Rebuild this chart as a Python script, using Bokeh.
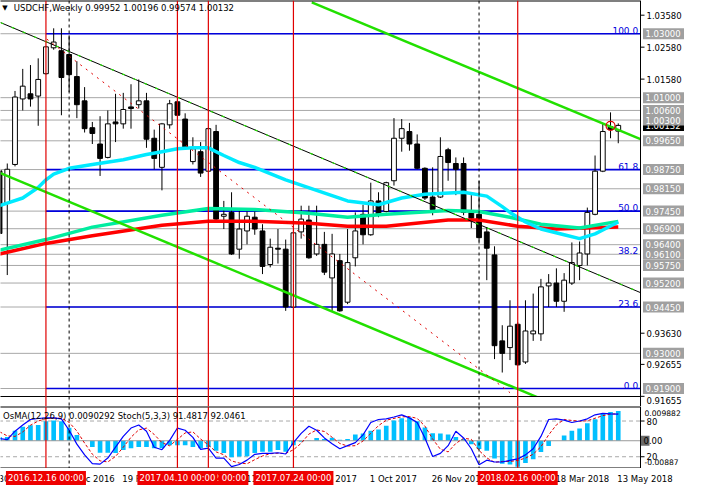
from bokeh.plotting import figure
from bokeh.layouts import column
from bokeh.models import Range1d, Label, Span
from bokeh.core.properties import value
from bokeh.embed import file_html
from bokeh.resources import INLINE

FONT = "DejaVu Sans"
FS = "8.5px"

# ---------------- data ----------------
symbol_title = "USDCHF,Weekly  0.99952 1.00196 0.99574 1.00132"
indicator_title = "OsMA(12,26,9) 0.0090292  Stoch(5,3,3) 91.4817 92.0461"

opens = [0.9871, 0.9771, 0.9891, 1.0096, 1.0112, 1.0105, 1.0175, 1.0256, 1.0247, 1.0235,
         1.0166, 1.0090, 1.0006, 0.9955, 0.9913, 1.0024, 1.0018, 1.0071, 1.0078, 1.0090,
         0.9973, 0.9882, 1.0015, 1.0087, 1.0033, 0.9900, 0.9931, 0.9870, 0.9994, 0.9729,
         0.9741, 0.9626, 0.9683, 0.9726, 0.9683, 0.9578, 0.9629, 0.9626, 0.9445, 0.9680,
         0.9717, 0.9611, 0.9641, 0.9536, 0.9590, 0.9460, 0.9599, 0.9735, 0.9671, 0.9777,
         0.9744, 0.9840, 0.9973, 0.9994, 0.9955, 0.9879, 0.9789, 0.9789, 0.9937, 0.9894,
         0.9894, 0.9741, 0.9735, 0.9680, 0.9608, 0.9339, 0.9318, 0.9391, 0.9273, 0.9361,
         0.9361, 0.9511, 0.9520, 0.9463, 0.9520, 0.9575, 0.9611, 0.9735, 0.9870, 1.0009,
         0.99952]
highs = [0.9882, 0.9894, 1.0121, 1.0190, 1.0202, 1.0223, 1.0262, 1.0317, 1.0317, 1.0295,
         1.0214, 1.0133, 1.0024, 1.0042, 1.0060, 1.0112, 1.0115, 1.0142, 1.0157, 1.0115,
         1.0000, 1.0021, 1.0093, 1.0093, 1.0051, 0.9976, 0.9961, 1.0006, 1.0015, 0.9777,
         0.9804, 0.9750, 0.9744, 0.9744, 0.9704, 0.9659, 0.9689, 0.9656, 0.9680, 0.9762,
         0.9762, 0.9762, 0.9680, 0.9674, 0.9611, 0.9689, 0.9741, 0.9765, 0.9834, 0.9804,
         0.9837, 1.0036, 1.0033, 1.0021, 0.9985, 0.9882, 0.9882, 0.9976, 0.9943, 0.9913,
         0.9913, 0.9795, 0.9840, 0.9695, 0.9635, 0.9388, 0.9466, 0.9397, 0.9466, 0.9487,
         0.9533, 0.9548, 0.9566, 0.9551, 0.9647, 0.9650, 0.9756, 0.9919, 1.0018, 1.0054,
         1.00196]
lows = [0.9650, 0.9545, 0.9885, 1.0060, 1.0072, 1.0012, 1.0172, 1.0250, 1.0045, 1.0118,
        1.0036, 0.9991, 0.9955, 0.9855, 0.9910, 0.9961, 1.0003, 1.0003, 1.0066, 0.9943,
        0.9876, 0.9810, 1.0003, 1.0042, 0.9943, 0.9891, 0.9852, 0.9867, 0.9717, 0.9689,
        0.9608, 0.9596, 0.9641, 0.9671, 0.9548, 0.9569, 0.9581, 0.9433, 0.9442, 0.9659,
        0.9596, 0.9605, 0.9545, 0.9433, 0.9430, 0.9454, 0.9572, 0.9641, 0.9668, 0.9726,
        0.9741, 0.9825, 0.9931, 0.9934, 0.9876, 0.9780, 0.9732, 0.9786, 0.9840, 0.9795,
        0.9732, 0.9692, 0.9650, 0.9529, 0.9282, 0.9240, 0.9279, 0.9261, 0.9267, 0.9339,
        0.9339, 0.9445, 0.9445, 0.9430, 0.9514, 0.9529, 0.9575, 0.9732, 0.9867, 0.9973,
        0.99574]
closes = [0.9675, 0.9876, 1.0102, 1.0136, 1.0096, 1.0157, 1.0259, 1.0274, 1.0163, 1.0172,
          1.0078, 1.0003, 0.9988, 0.9910, 1.0018, 1.0018, 1.0063, 1.0066, 1.0090, 0.9970,
          0.9910, 1.0018, 1.0081, 1.0045, 0.9946, 0.9940, 0.9864, 1.0003, 0.9720, 0.9735,
          0.9611, 0.9689, 0.9729, 0.9689, 0.9572, 0.9632, 0.9626, 0.9445, 0.9677, 0.9720,
          0.9599, 0.9641, 0.9554, 0.9611, 0.9433, 0.9584, 0.9683, 0.9671, 0.9777, 0.9732,
          0.9834, 0.9973, 1.0003, 0.9955, 0.9879, 0.9786, 0.9750, 0.9916, 0.9897, 0.9876,
          0.9741, 0.9723, 0.9662, 0.9629, 0.9324, 0.9300, 0.9385, 0.9264, 0.9370, 0.9370,
          0.9508, 0.9520, 0.9463, 0.9529, 0.9584, 0.9614, 0.9741, 0.9870, 0.9994, 1.0000,
          1.00132]

# moving averages (week index, price)
ma_fast_idx = [0, 3, 5, 6, 7, 9, 12, 16, 19, 21, 23, 25, 27, 29, 31, 33, 37, 41, 45, 49,
               52, 55, 60, 63, 65, 66, 68, 70, 73, 75, 77, 78, 80]
ma_fast_val = [0.9762, 0.9786, 0.9819, 0.9843, 0.9861, 0.9879, 0.9891, 0.9906, 0.9922, 0.9931,
               0.9940, 0.9943, 0.9943, 0.9919, 0.9897, 0.9882, 0.9843, 0.9810, 0.9777, 0.9765,
               0.9786, 0.9798, 0.9804, 0.9792, 0.9759, 0.9741, 0.9711, 0.9689, 0.9671, 0.9659,
               0.9674, 0.9686, 0.9711]
ma_mid_idx = [0, 6, 12, 21, 27, 33, 40, 45, 50, 58, 62, 66, 70, 75, 80]
ma_mid_val = [0.9623, 0.9656, 0.9695, 0.9732, 0.9753, 0.9750, 0.9738, 0.9726, 0.9735, 0.9747,
              0.9744, 0.9726, 0.9704, 0.9692, 0.9713]
ma_slow_idx = [0, 6, 12, 21, 27, 33, 40, 45, 50, 58, 62, 67, 72, 80]
ma_slow_val = [0.9611, 0.9644, 0.9668, 0.9701, 0.9713, 0.9713, 0.9707, 0.9698, 0.9698, 0.9717,
               0.9717, 0.9698, 0.9689, 0.9695]

# horizontal levels
grey_levels = [1.0300, 1.0100, 1.0060, 1.0030, 0.9965, 0.9875, 0.9815, 0.9745, 0.9690,
               0.9640, 0.9610, 0.9575, 0.9520, 0.9445, 0.9300, 0.9190]
fib_levels = [1.0300, 0.9875, 0.9745, 0.9445, 0.9190]
fib_text_levels = [1.0300, 0.9875, 0.9745, 0.9610, 0.9445, 0.9190]
fib_texts = ["100.0", "61.8", "50.0", "38.2", "23.6", "0.0"]
current_price = 1.00132

# price scale ticks
price_ticks = [1.0358, 1.0258, 1.0158, 0.9363, 0.92655, 0.91655]

# trend lines (week index, price)
channel_x = [0.125, 82.875]
channel_y = [1.0335, 0.9490]
lime_up_x = [40.375, 82.875]
lime_up_y = [1.0398, 0.9970]
lime_low_x = [0.125, 70.5]
lime_low_y = [0.9864, 0.9153]
red_dot_x = [6.125, 66.0]
red_dot_y = [1.0283, 0.9177]

# vertical markers (week index)
red_vlines = [6, 23, 27, 38, 67]
dash_vlines = [9, 62]

# time labels
date_idx = [0, 8, 16, 24, 32, 40, 48, 56, 64, 72, 80]
date_txt = ["30 Oct 2016", "25 Dec 2016", "19 Feb 2017", "16 Apr 2017", "11 Jun 2017",
            "6 Aug 2017", "1 Oct 2017", "26 Nov 2017", "21 Jan 2018", "18 Mar 2018", "13 May 2018"]
mark_back_idx = [27]
mark_back_txt = ["2017.05.12 00:00"]
mark_idx = [6, 23, 38, 67]
mark_txt = ["2016.12.16 00:00", "2017.04.10 00:00", "2017.07.24 00:00", "2018.02.16 00:00"]

# indicators
osma = [0.0011, 0.0011, 0.0030, 0.0042, 0.0047, 0.0048, 0.0059, 0.0061, 0.0059, 0.0039,
        0.0017, 0.0001, -0.0019, -0.0036, -0.0036, -0.0037, -0.0028, -0.0023, -0.0019, -0.0019,
        -0.0023, -0.0023, -0.0014, -0.0014, -0.0014, -0.0019, -0.0023, -0.0019, -0.0030, -0.0037,
        -0.0050, -0.0048, -0.0047, -0.0037, -0.0033, -0.0033, -0.0028, -0.0033, -0.0014, -0.0003,
        0.0001, 0.0008, 0.0005, 0.0009, 0.0003, 0.0005, 0.0019, 0.0022, 0.0030, 0.0034,
        0.0045, 0.0061, 0.0068, 0.0070, 0.0059, 0.0040, 0.0023, 0.0022, 0.0019, 0.0011,
        0.0005, -0.0011, -0.0025, -0.0030, -0.0054, -0.0070, -0.0072, -0.0079, -0.0067, -0.0056,
        -0.0034, -0.0016, 0.0000, 0.0016, 0.0030, 0.0037, 0.0053, 0.0065, 0.0081, 0.0087,
        0.0090292]
stoch_main = [50.5, 48.9, 62.9, 73.3, 82.6, 84.2, 85.3, 85.3, 83.7, 64.5,
              41.2, 23.1, 8.5, 7.6, 17.8, 36.0, 54.2, 68.2, 73.3, 62.9,
              36.0, 31.8, 47.4, 68.2, 64.5, 52.6, 32.4, 34.5, 17.8, 17.8,
              3.4, 7.0, 14.3, 24.1, 25.6, 25.6, 26.7, 24.6, 43.8, 59.3,
              71.3, 64.5, 51.6, 42.0, 33.4, 38.6, 43.8, 56.7, 77.5, 82.6,
              83.7, 86.8, 90.4, 85.3, 77.5, 51.6, 20.5, 25.6, 38.6, 62.9,
              51.6, 33.4, 6.5, 14.3, 11.2, 11.2, 13.8, 16.3, 23.1, 33.4,
              54.2, 82.6, 83.7, 81.6, 77.5, 80.0, 83.7, 90.4, 93.0, 92.0,
              91.48]
stoch_signal = [62.0, 55.0, 54.1, 61.7, 72.9, 80.0, 84.0, 84.9, 84.8, 77.8,
                63.1, 42.9, 24.3, 13.1, 11.3, 20.5, 36.0, 52.8, 65.2, 68.1,
                57.4, 43.6, 38.4, 49.1, 60.0, 61.8, 49.8, 39.8, 28.2, 23.4,
                13.0, 9.4, 8.2, 15.1, 21.3, 25.1, 26.0, 25.6, 31.7, 42.6,
                58.1, 65.0, 62.5, 52.7, 42.3, 38.0, 38.6, 46.4, 59.3, 72.3,
                81.3, 84.4, 87.0, 87.5, 84.4, 71.5, 49.9, 32.6, 28.2, 42.4,
                51.0, 49.3, 30.5, 18.1, 10.7, 12.2, 12.1, 13.8, 17.7, 24.3,
                36.9, 56.7, 73.5, 82.6, 80.9, 79.7, 80.4, 84.7, 89.0, 91.8,
                92.05]
stoch_levels = [80, 20]
osma_scale_max = "0.009882"
osma_scale_min = "-0.00887"

# ---------------- layout constants ----------------
PW = 640            # width of the price area in px
AW = 44             # width of the scale strip in px
FW = PW + AW
X0, X1 = 0.125, 82.875
PX = PW / (X1 - X0)                 # px per week
XE = X0 + FW / PX
weeks = list(range(len(opens)))
xr = Range1d(X0, XE)

GREY = "#a8a8a8"
BLUE = "#0000dd"
RED = "#e00000"
LIME = "#22e000"


def base_fig(fh, yr):
    f = figure(frame_width=FW, frame_height=fh, x_range=xr, y_range=yr,
               output_backend="svg", toolbar_location=None,
               x_axis_location=None, y_axis_location=None,
               min_border_left=0, min_border_right=0,
               min_border_top=0, min_border_bottom=0)
    f.xgrid.grid_line_color = None
    f.ygrid.grid_line_color = None
    f.background_fill_color = "white"
    f.border_fill_color = "white"
    f.outline_line_color = None
    return f


def scale_boxes(f, levels, texts, half, fill, y_range_name="default"):
    f.quad(left=[X1 + 2.5 / PX] * len(levels), right=[XE + 1] * len(levels),
           bottom=[v - half for v in levels], top=[v + half for v in levels],
           fill_color=fill, line_color=None, y_range_name=y_range_name)
    f.text(x=[X1 + 5 / PX] * len(levels), y=levels, text=texts, text_align="left",
           text_baseline="middle", text_font=value(FONT), text_font_size=value(FS),
           text_color="white", y_range_name=y_range_name)


# ---------------- main price panel ----------------
PTOP, PBOT = 1.0404, 0.9165          # visible price window of the chart
CH = 396                             # chart height, px
PY = CH / (PTOP - PBOT)              # px per price unit
GAP = 10                             # strip below the chart border (room for the lowest scale label)
MH = CH + GAP
pyr = Range1d(PBOT - GAP / PY, PTOP)
p = base_fig(MH, pyr)

p.segment(x0=X0 - 2, x1=X1, y0=grey_levels, y1=grey_levels, line_color=GREY, line_width=1)
p.segment(x0=6, x1=X1, y0=fib_levels, y1=fib_levels, line_color=BLUE, line_width=1.6)
p.text(x=[X1 - 0.3] * len(fib_texts), y=fib_text_levels, text=fib_texts, text_align="right",
       text_baseline="bottom", text_color=BLUE, text_font=value(FONT),
       text_font_size=value("9px"))

for v in red_vlines:
    p.add_layout(Span(location=v, dimension="height", line_color=RED, line_width=1.2))
for v in dash_vlines:
    p.add_layout(Span(location=v, dimension="height", line_color="black", line_width=1,
                      line_dash="3 3"))

# candles
body_top = [max(o, c) for o, c in zip(opens, closes)]
body_bot = [min(o, c) if abs(o - c) > 0.0002 else max(o, c) - 0.0002 for o, c in zip(opens, closes)]
body_fill = ["black" if c < o else "white" for o, c in zip(opens, closes)]
p.segment(x0=weeks, x1=weeks, y0=lows, y1=highs, line_color="black", line_width=1)
p.vbar(x=weeks, top=body_top, bottom=body_bot, width=0.62, fill_color=body_fill,
       line_color="black", line_width=1)

# moving averages
p.line(ma_slow_idx, ma_slow_val, line_color="#ff0000", line_width=3.5)
p.line(ma_mid_idx, ma_mid_val, line_color="#00eda0", line_width=3.5)
p.line(ma_fast_idx, ma_fast_val, line_color="#00eaff", line_width=3.5)

# trend lines
p.line(channel_x, channel_y, line_color="black", line_width=1)
p.line(channel_x, channel_y, line_color=LIME, line_width=1.2, line_dash="3 9")
p.line(lime_up_x, lime_up_y, line_color=LIME, line_width=2.5)
p.line(lime_low_x, lime_low_y, line_color=LIME, line_width=2.5)
p.line(red_dot_x, red_dot_y, line_color=RED, line_width=1, line_dash="2 5")
p.scatter(x=[79], y=[1.0012], marker="circle", size=9, fill_alpha=0, line_color=RED,
          line_width=1.2)

# strip below the chart is white
p.quad(left=[X0 - 2], right=[XE + 1], bottom=[pyr.start - 1], top=[PBOT],
       fill_color="white", line_color=None)
# chart borders
p.segment(x0=[X0 - 2, X0 - 2], x1=[X1, X1], y0=[PTOP, PBOT], y1=[PTOP, PBOT],
          line_color="black", line_width=[2, 1])
p.add_layout(Span(location=X1, dimension="height", line_color="black", line_width=1))

# right price scale
BOX_HALF = 5.5 / PY
scale_boxes(p, [current_price], [f"{current_price:.5f}"], BOX_HALF, "black")
scale_boxes(p, grey_levels, [f"{v:.5f}" for v in grey_levels], BOX_HALF, "#a0a0a0")
p.segment(x0=[X1] * len(price_ticks), x1=[X1 + 4 / PX] * len(price_ticks),
          y0=price_ticks, y1=price_ticks, line_color="black", line_width=1)
tick_text_y = [t if t > PBOT + 12 / PY else PBOT - 3.5 / PY for t in price_ticks]
p.text(x=[X1 + 6 / PX] * len(price_ticks), y=tick_text_y,
       text=[f"{t:.5f}" for t in price_ticks], text_align="left", text_baseline="middle",
       text_font=value(FONT), text_font_size=value(FS), text_color="black")

p.add_layout(Label(x=0.35, y=1.0379, text="\u25bc", text_baseline="middle", text_font=FONT,
                   text_font_size="7px", text_color="black"))
p.add_layout(Label(x=1.85, y=1.0379, text=symbol_title, text_baseline="middle",
                   text_font=FONT, text_font_size=FS, text_color="black"))

# ---------------- indicator panel ----------------
IH = 62
qyr = Range1d(0.26, 104.4)
q = base_fig(IH, qyr)
oyr = Range1d(-0.0084, 0.01036)
q.extra_y_ranges = {"osma": oyr}
QY = IH / (oyr.end - oyr.start)
q.segment(x0=X0 - 2, x1=X1, y0=stoch_levels, y1=stoch_levels, line_color=GREY,
          line_width=1, line_dash="4 3")
q.vbar(x=weeks, top=osma, bottom=0, width=0.6, fill_color="#00bfff", line_color=None,
       y_range_name="osma")
q.segment(x0=[X0 - 2], x1=[X1], y0=[0], y1=[0], line_color="#9a9a9a", line_width=1,
          y_range_name="osma")
for v in red_vlines:
    q.add_layout(Span(location=v, dimension="height", line_color=RED, line_width=1.2))
for v in dash_vlines:
    q.add_layout(Span(location=v, dimension="height", line_color="black", line_width=1,
                      line_dash="3 3"))
q.line(weeks, stoch_signal, line_color=RED, line_width=1, line_dash="3 2")
q.line(weeks, stoch_main, line_color="#0000ff", line_width=1.2)

q.segment(x0=[X0 - 2, X0 - 2], x1=[X1, X1], y0=[qyr.start, qyr.end], y1=[qyr.start, qyr.end],
          line_color="black", line_width=2)
q.add_layout(Span(location=X1, dimension="height", line_color="black", line_width=1))
q.segment(x0=[X1] * 2, x1=[X1 + 4 / PX] * 2, y0=stoch_levels, y1=stoch_levels,
          line_color="black", line_width=1)
q.text(x=[X1 + 6 / PX] * 2, y=stoch_levels, text=[str(s) for s in stoch_levels],
       text_align="left", text_baseline="middle", text_font=value(FONT),
       text_font_size=value(FS), text_color="black")
q.text(x=[X1 + 4 / PX] * 2, y=[oyr.end - 6.5 / QY, oyr.start + 6.5 / QY],
       text=[osma_scale_max, osma_scale_min], text_align="left",
       text_baseline="middle", text_font=value(FONT), text_font_size=value("7.6px"),
       text_color="black", y_range_name="osma")
# zero value marker: small dark box behind the first digit
q.quad(left=[X1 + 0.5 / PX], right=[X1 + 9 / PX], bottom=[-5 / QY], top=[5 / QY],
       fill_color="#6a6a6a", line_color=None, y_range_name="osma")
q.text(x=[X1 + 3 / PX], y=[0.0], text=["0.00"], text_align="left", text_baseline="middle",
       text_font=value(FONT), text_font_size=value(FS), text_color="black",
       y_range_name="osma")
q.add_layout(Label(x=0.45, y=88.5, text=indicator_title, text_baseline="middle",
                   text_font=FONT, text_font_size=FS, text_color="black"))

# ---------------- time strip ----------------
t = figure(frame_width=FW, frame_height=20, x_range=xr, y_range=Range1d(0, 1),
           output_backend="svg", toolbar_location=None,
           x_axis_location=None, y_axis_location=None,
           min_border_left=0, min_border_right=0, min_border_top=0, min_border_bottom=0)
t.xgrid.grid_line_color = None
t.ygrid.grid_line_color = None
t.outline_line_color = None
t.text(x=date_idx, y=[0.5] * len(date_idx), text=date_txt, text_align="left",
       text_baseline="middle", text_font=value(FONT), text_font_size=value(FS),
       text_color="black", x_offset=-1)
BHW = 80 / PX / 2
for idx, txt in ((mark_back_idx, mark_back_txt), (mark_idx, mark_txt)):
    t.quad(left=[m - BHW for m in idx], right=[m + BHW for m in idx],
           bottom=[0.17] * len(idx), top=[0.88] * len(idx), fill_color="#ee0000",
           line_color=None)
    t.text(x=idx, y=[0.52] * len(idx), text=txt, text_align="center",
           text_baseline="middle", text_font=value(FONT), text_font_size=value(FS),
           text_color="white")

layout = column(p, q, t, spacing=0)
open("out.html", "w").write(file_html(layout, INLINE))
